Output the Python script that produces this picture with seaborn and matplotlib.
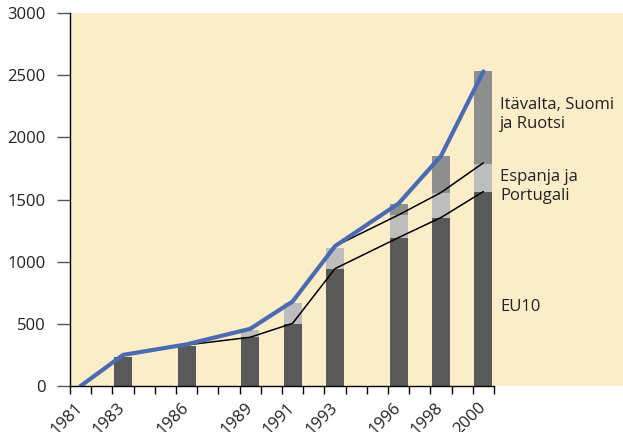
import matplotlib
matplotlib.use("Agg")
import matplotlib.pyplot as plt
from matplotlib.patches import Rectangle
import seaborn as sns
import pandas as pd

# ---- data ----
all_years = list(range(1981, 2001))
bar_years = [1983, 1986, 1989, 1991, 1993, 1996, 1998, 2000]
eu10 = [236, 320, 392, 500, 944, 1194, 1355, 1564]
es_pt = [0, 0, 59, 171, 169, 182, 201, 223]
aut_fin_swe = [0, 0, 0, 0, 0, 89, 290, 743]

total_years = [1981, 1983, 1986, 1989, 1991, 1993, 1996, 1998, 2000]
total_line = [0, 250, 335, 460, 680, 1125, 1468, 1850, 2530]
eu12_years = [1993, 1996, 1998, 2000]
eu12_line = [1125, 1376, 1556, 1795]
eu10_years = [1986, 1989, 1991, 1993, 1996, 1998, 2000]
eu10_line = [330, 392, 504, 944, 1194, 1355, 1564]

label_years = [1981, 1983, 1986, 1989, 1991, 1993, 1996, 1998, 2000]
yticks = [0, 500, 1000, 1500, 2000, 2500, 3000]
series_labels = ["Itävalta, Suomi\nja Ruotsi", "Espanja ja\nPortugali", "EU10"]
label_y = [2180, 1605, 636]

# ---- style ----
sns.set_theme(style="white")
plt.rcParams['font.family'] = ['Open Sans', 'DejaVu Sans']

BG = "#FCEDC9"
DARK = "#595959"
LIGHT = "#BDBDBD"
MID = "#8E8E8E"
BLUE = "#4A6BB2"

fig = plt.figure(figsize=(6.23, 4.32), dpi=100)
ax = fig.add_axes([70 / 623, 1 - 386 / 432, (494 - 70) / 623, (386 - 13) / 432])
ax.set_facecolor(BG)
fig.add_artist(Rectangle((494 / 623, 1 - 386 / 432), 1 - 494 / 623, (386 - 13) / 432,
                         transform=fig.transFigure, facecolor=BG, edgecolor="none", zorder=-1))

df = pd.DataFrame({"year": bar_years, "eu10": eu10, "es_pt": es_pt, "afs": aut_fin_swe})
df["eu12"] = df["eu10"] + df["es_pt"]
df["eu15"] = df["eu12"] + df["afs"]

for col, colr in [("eu15", MID), ("eu12", LIGHT), ("eu10", DARK)]:
    sns.barplot(data=df, x="year", y=col, order=all_years, color=colr, width=0.85,
                saturation=1, linewidth=0, ax=ax, zorder=2)

pos = {y: i for i, y in enumerate(all_years)}
sns.lineplot(x=[pos[y] for y in eu10_years], y=eu10_line, color="black", linewidth=1.1, ax=ax, zorder=3)
sns.lineplot(x=[pos[y] for y in eu12_years], y=eu12_line, color="black", linewidth=1.1, ax=ax, zorder=3)
sns.lineplot(x=[pos[y] for y in total_years], y=total_line, color=BLUE, linewidth=3.0, ax=ax, zorder=4)

ax.set_xlim(-0.5, len(all_years) - 0.5)
ax.set_ylim(0, 3000)
ax.set_xlabel("")
ax.set_ylabel("")

ax.set_xticks([i - 0.5 for i in range(len(all_years) + 1)])
ax.set_xticklabels([])
ax.set_xticks([pos[y] for y in label_years], minor=True)
ax.set_xticklabels([str(y) for y in label_years], minor=True, rotation=45,
                   ha="right", va="center", rotation_mode="anchor", fontsize=12, color="#222222")
ax.tick_params(axis="x", which="major", length=6, width=1, color="black", direction="out", bottom=True)
ax.tick_params(axis="x", which="minor", length=0, pad=14, bottom=True)

ax.set_yticks(yticks)
ax.set_yticklabels([str(v) for v in yticks], fontsize=12, color="#222222")
ax.tick_params(axis="y", length=9.5, width=1, color="#555555", direction="out", pad=8, left=True)

for s in ["top", "right"]:
    ax.spines[s].set_visible(False)
for s in ["left", "bottom"]:
    ax.spines[s].set_color("black")
    ax.spines[s].set_linewidth(1)
    ax.spines[s].set_zorder(5)

for txt, yv in zip(series_labels, label_y):
    ax.text(19.78, yv, txt, ha="left", va="center", fontsize=12, color="#222222",
            linespacing=1.25, clip_on=False)

fig.savefig("out.png", dpi=100)
